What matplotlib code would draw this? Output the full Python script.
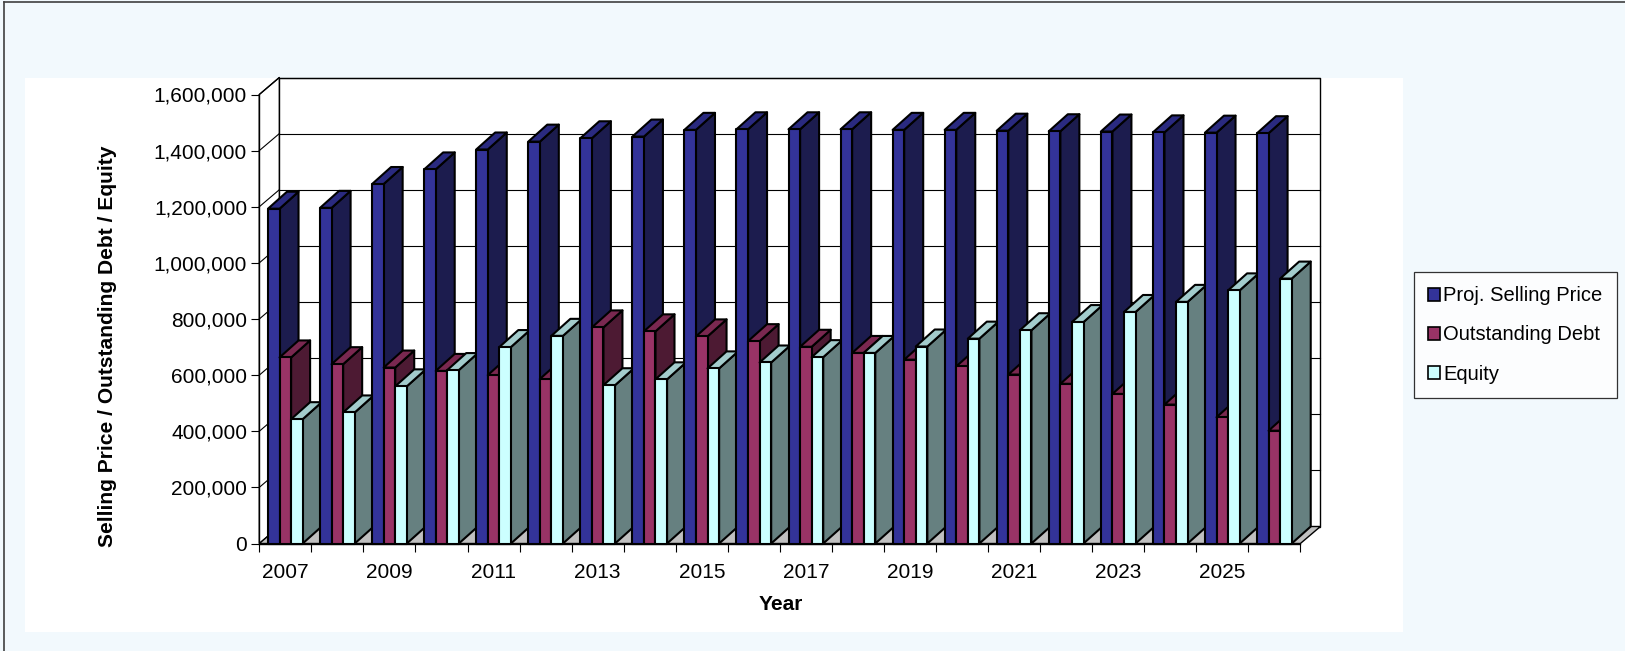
import matplotlib
matplotlib.use("Agg")
import matplotlib.pyplot as plt
from matplotlib.patches import Polygon, Rectangle, Patch
from matplotlib.lines import Line2D
import numpy as np

plt.rcParams['font.family'] = ['Liberation Sans', 'DejaVu Sans']

# data
years = list(range(2007, 2027))
selling_price = [1193000, 1196000, 1281000, 1333000, 1404000, 1432000, 1444000, 1450000, 1474000, 1476000,
                 1476000, 1476000, 1474000, 1474000, 1471000, 1469000, 1468000, 1465000, 1464000, 1462000]
outstanding_debt = [663000, 639000, 627000, 615000, 600000, 586000, 770000, 756000, 738000, 721000,
                    701000, 679000, 655000, 631000, 602000, 569000, 533000, 495000, 450000, 402000]
equity = [443000, 467000, 560000, 618000, 700000, 740000, 564000, 585000, 624000, 645000,
          664000, 679000, 702000, 730000, 760000, 789000, 825000, 861000, 902000, 944000]

series_names = ['Proj. Selling Price', 'Outstanding Debt', 'Equity']
series_values = [selling_price, outstanding_debt, equity]
# (front, top, side) face colours, Excel 3D style
face_colors = [('#333399', '#2a2a80', '#1c1c4e'),
               ('#993366', '#7a2850', '#4d1a33'),
               ('#ccffff', '#a3cccc', '#668080')]

W, H = 1625, 651
fig = plt.figure(figsize=(W / 100, H / 100), dpi=100, facecolor='#f2f9fd')

# white chart area
fig.add_artist(Rectangle((25 / W, 1 - 632 / H), (1403 - 25) / W, (632 - 77.7) / H,
                         transform=fig.transFigure, facecolor='white', edgecolor='none', zorder=-1))
# outer border (top / left)
fig.add_artist(Line2D([4 / W, 1], [1 - 2 / H, 1 - 2 / H], transform=fig.transFigure, color='#404040', lw=1.2))
fig.add_artist(Line2D([4 / W, 4 / W], [0, 1 - 2 / H], transform=fig.transFigure, color='#404040', lw=1.2))

# front plane of the 3D plot
x0_px, x1_px, y0_px, y1_px = 259.3, 1300.4, 543.5, 94.5
ax = fig.add_axes([x0_px / W, 1 - y0_px / H, (x1_px - x0_px) / W, (y0_px - y1_px) / H])
ax.set_facecolor('none')
n = len(years)
ymax = 1600000
ax.set_xlim(0, n)
ax.set_ylim(0, ymax)

px_x = n / (x1_px - x0_px)        # data units per pixel
px_y = ymax / (y0_px - y1_px)
dxw, dyw = 20 * px_x, 17 * px_y   # wall depth
dxb, dyb = 19 * px_x, 17 * px_y   # bar depth

# walls and floor
ax.add_patch(Rectangle((dxw, dyw), n, ymax, facecolor='white', edgecolor='black', lw=1.0, clip_on=False, zorder=1))
ax.add_patch(Polygon([(0, 0), (0, ymax), (dxw, ymax + dyw), (dxw, dyw)], closed=True,
                     facecolor='white', edgecolor='black', lw=1.0, clip_on=False, zorder=1))
ax.add_patch(Polygon([(0, 0), (n, 0), (n + dxw, dyw), (dxw, dyw)], closed=True,
                     facecolor='#c0c0c0', edgecolor='black', lw=1.0, clip_on=False, zorder=1))
yticks = np.arange(0, ymax + 1, 200000)
for v in yticks[1:]:
    ax.plot([dxw, n + dxw], [v + dyw, v + dyw], color='black', lw=0.8, clip_on=False, zorder=1.5)
    ax.plot([0, dxw], [v, v + dyw], color='black', lw=0.8, clip_on=False, zorder=1.5)

# bars
w = 1 / 4.5
gap = 0.75 * w
for i in range(n):
    for s, vals in enumerate(series_values):
        h = vals[i]
        x = i + gap + s * w
        front_c, top_c, side_c = face_colors[s]
        kw = dict(closed=True, edgecolor='black', lw=1.5, joinstyle='round', clip_on=False, zorder=3)
        ax.add_patch(Polygon([(x + w, 0), (x + w + dxb, dyb), (x + w + dxb, h + dyb), (x + w, h)],
                             facecolor=side_c, **kw))
        ax.add_patch(Polygon([(x, h), (x + w, h), (x + w + dxb, h + dyb), (x + dxb, h + dyb)],
                             facecolor=top_c, **kw))
        ax.add_patch(Polygon([(x, 0), (x + w, 0), (x + w, h), (x, h)], facecolor=front_c, **kw))

# axes
for side in ['top', 'right']:
    ax.spines[side].set_visible(False)
ax.spines['left'].set_linewidth(1.0)
ax.spines['bottom'].set_linewidth(1.0)
ax.set_yticks(yticks)
ax.set_yticklabels([f'{v:,.0f}' for v in yticks])
ax.set_xticks(np.arange(0, n + 1))
ax.set_xticklabels([])
ax.set_xticks(np.arange(0, n, 2) + 0.5, minor=True)
ax.set_xticklabels([str(y) for y in years[::2]], minor=True)
ax.tick_params(axis='y', length=5.8, width=0.8, pad=3, labelsize=15)
ax.tick_params(axis='x', which='major', length=5.8, width=0.8)
ax.tick_params(axis='x', which='minor', length=0, pad=14, labelsize=15)

fig.text(108 / W, 1 - 346 / H, 'Selling Price / Outstanding Debt / Equity', rotation=90,
         ha='center', va='center', fontsize=15.1, fontweight='bold')
fig.text(781 / W, 1 - 604 / H, 'Year', ha='center', va='center', fontsize=15, fontweight='bold')

handles = [Patch(facecolor=c[0], edgecolor='black', lw=1.2) for c in face_colors]
leg = fig.legend(handles, series_names, loc='center', bbox_to_anchor=(1515.5 / W, 1 - 335 / H),
                 fontsize=14.5, frameon=True, fancybox=False, handlelength=0.6, handleheight=0.6,
                 handletextpad=0.15, labelspacing=1.0, borderpad=0.7)
leg.get_frame().set_edgecolor('black')
leg.get_frame().set_linewidth(0.9)
leg.get_frame().set_facecolor('white')

fig.savefig('out.png', dpi=100, facecolor=fig.get_facecolor())
